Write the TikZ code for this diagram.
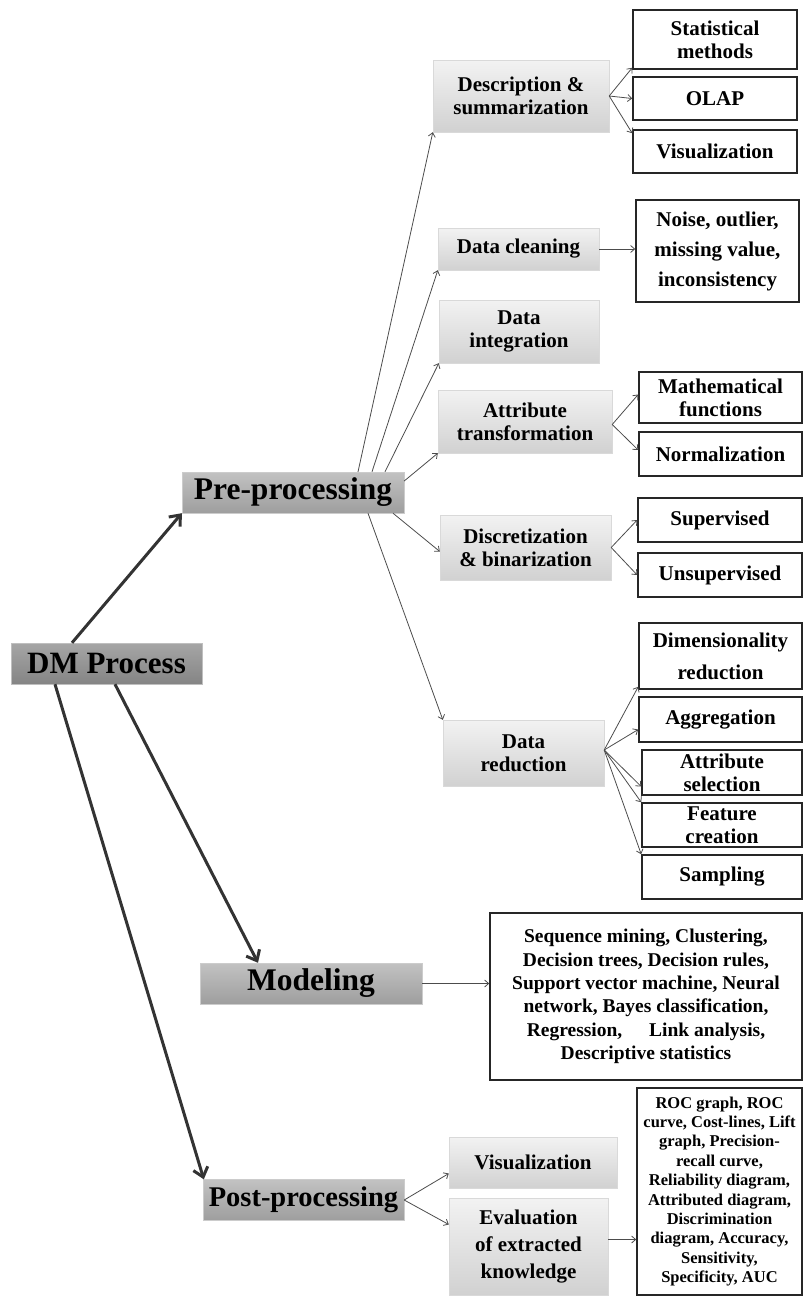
\documentclass[tikz,border=0pt]{standalone}
\usepackage{fontspec}
\setmainfont{Liberation Serif}
\usetikzlibrary{arrows.meta}
\begin{document}
\begin{tikzpicture}[x=1pt,y=-1pt,%
        every node/.style={inner sep=0pt,align=center},%
        root/.style={draw=black!25,top color=black!35,bottom color=black!48,
          minimum height=41,font=\bfseries\fontsize{31}{33}\selectfont},%
        stage/.style={draw=black!20,top color=black!24,bottom color=black!38,
          minimum height=41,font=\bfseries\fontsize{31.5}{33}\selectfont},%
        task/.style={draw=black!15,top color=black!5,bottom color=black!18,
          font=\bfseries\fontsize{21}{23}\selectfont},%
        leaf/.style={draw=black!85,line width=1.6,fill=white,
          font=\bfseries\fontsize{21}{23}\selectfont},%
        mainconn/.style={-{Straight Barb[length=9,width=15]},line width=3,draw=black!80},%
        conn/.style={-{Straight Barb[length=4,width=7]},line width=0.8,draw=black!70}]%
        \useasboundingbox (0,0) rectangle (803,1296);
        % main stages
        \node[root,minimum width=191] (dm) at (106.5,663.5) {DM Process};
        \node[stage,minimum width=222] (pre) at (293,492.5) {Pre-processing};
        \node[stage,minimum width=222] (mod) at (311,983.5) {Modeling};
        \node[stage,minimum width=201,font=\bfseries\fontsize{28.5}{30}\selectfont]
        (post) at (303.5,1200) {Post-processing};
        % tasks
        \node[task,minimum width=176,minimum height=72] (desc) at (521,96)
        {Description \&\\summarization}; \node[task,minimum width=161,minimum
        height=42] (clean) at (518.5,249) {Data cleaning}; \node[task,minimum
        width=160,minimum height=63] (integ) at (519,331.5) {Data\\integration};
        \node[task,minimum width=174,minimum height=63] (attr) at (525,421.5)
        {Attribute\\transformation}; \node[task,minimum width=171,minimum
        height=65] (disc) at (525.5,547.5) {Discretization\\\& binarization};
        \node[task,minimum width=161,minimum height=66] (red) at (523.5,753)
        {Data\\reduction}; \node[task,minimum width=168,minimum height=51] (vis)
        at (533,1162.5) {Visualization}; \node[task,minimum width=159,minimum
        height=97,font=\bfseries\fontsize{21}{27}\selectfont] (eval) at
        (528.5,1246.5) {Evaluation\\of extracted\\knowledge};
        % methods
        \node[leaf,minimum width=164,minimum height=59] (stat) at (715,39.5)
        {Statistical\\methods}; \node[leaf,minimum width=164,minimum height=43]
        (olap) at (715,98.5) {OLAP}; \node[leaf,minimum width=164,minimum
        height=43] (visu) at (715,151.5) {Visualization}; \node[leaf,minimum
        width=163,minimum height=102,font=\bfseries\fontsize{21}{30}\selectfont]
        (noise) at (717.5,251) {Noise, outlier,\\missing value,\\inconsistency};
        \node[leaf,minimum width=163,minimum height=51] (math) at (720.5,397.5)
        {Mathematical\\functions}; \node[leaf,minimum width=163,minimum
        height=44] (norm) at (720.5,454) {Normalization}; \node[leaf,minimum
        width=164,minimum height=44] (sup) at (720,520) {Supervised};
        \node[leaf,minimum width=164,minimum height=44] (unsup) at (720,575)
        {Unsupervised}; \node[leaf,minimum width=163,minimum height=66,
        font=\bfseries\fontsize{21}{32}\selectfont] (dim) at (720.5,656)
        {Dimensionality\\reduction}; \node[leaf,minimum width=163,minimum
        height=45] (agg) at (720.5,719.5) {Aggregation}; \node[leaf,minimum
        width=160,minimum height=45] (asel) at (722,772.5) {Attribute\\selection};
        \node[leaf,minimum width=160,minimum height=44] (feat) at (722,825)
        {Feature\\creation}; \node[leaf,minimum width=160,minimum height=44]
        (samp) at (722,877) {Sampling};
        \node[leaf,minimum width=312,minimum height=167,
        font=\bfseries\fontsize{19.5}{23.3}\selectfont] (modtxt) at (646,996.5)
        {Sequence mining, Clustering,\\Decision trees, Decision rules,\\Support
          vector machine, Neural\\network, Bayes classification,\\Regression,\hspace{22pt}
          Link analysis,\\Descriptive statistics};
        \node[leaf,minimum width=165,minimum height=207,
        font=\bfseries\fontsize{16.5}{19.4}\selectfont] (evaltxt) at
        (719.5,1191.5) {ROC graph, ROC\\curve, Cost-lines, Lift\\graph,
          Precision-\\recall curve,\\Reliability diagram,\\Attributed
          diagram,\\Discrimination\\diagram, Accuracy,\\Sensitivity,\\Specificity,
          AUC};
        % connectors
        \draw[mainconn] ([xshift=-34.5]dm.north) -- (pre.south west);
        \draw[mainconn] ([xshift=8.5]dm.south) -- ([xshift=-53]mod.north);
        \draw[mainconn] ([xshift=-51.5]dm.south) -- ([xshift=1]post.north west);
        \draw[conn] ([xshift=65]pre.north) -- (desc.south west);
        \draw[conn] ([xshift=79]pre.north) -- (clean.south west);
        \draw[conn] ([xshift=92]pre.north) -- (integ.south west);
        \draw[conn] ([yshift=11.5]pre.east) -- (attr.south west);
        \draw[conn] ([xshift=100]pre.south) -- ([yshift=-4]disc.west);
        \draw[conn] ([xshift=75]pre.south) -- (red.north west);
        \draw[conn] (desc.east) -- ([yshift=2]stat.south west);
        \draw[conn] (desc.east) -- (olap.west);
        \draw[conn] (desc.east) -- ([yshift=-4]visu.north west);
        \draw[conn] (clean.east) -- (clean.east -| noise.west);
        \draw[conn] ([yshift=-3]attr.east) -- ([yshift=3]math.west);
        \draw[conn] ([yshift=-3]attr.east) -- ([yshift=4]norm.west);
        \draw[conn] (disc.east) -- (sup.west);
        \draw[conn] (disc.east) -- (unsup.west);
        \draw[conn] ([yshift=3]red.east) -- ([yshift=3]dim.south west);
        \draw[conn] ([yshift=3]red.east) -- ([yshift=-10]agg.west);
        \draw[conn] ([yshift=3]red.east) -- ([yshift=-14]asel.west);
        \draw[conn] ([yshift=3]red.east) -- (feat.north west);
        \draw[conn] ([yshift=3]red.east) -- (samp.north west);
        \draw[conn] (mod.east) -- (mod.east -| modtxt.west);
        \draw[conn] (post.east) -- ([yshift=-11]vis.west);
        \draw[conn] (post.east) -- ([yshift=22]eval.west);
        \draw[conn] ([yshift=7]eval.east) -- ([yshift=7]eval.east -| evaltxt.west);
      \end{tikzpicture}
\end{document}
